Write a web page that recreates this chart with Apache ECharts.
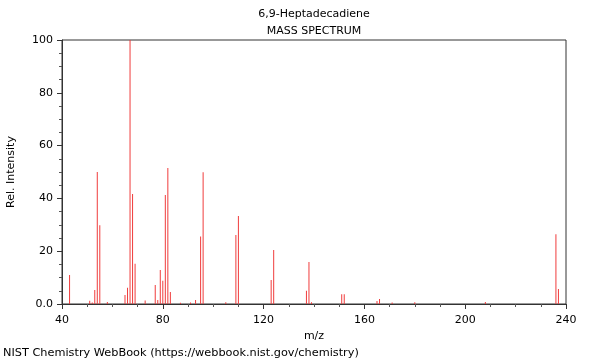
<!DOCTYPE html>
<html>
<head>
<meta charset="utf-8">
<script src="https://cdn.jsdelivr.net/npm/echarts@6/dist/echarts.min.js"></script>
<style>html,body{margin:0;padding:0;background:#fff}#c{width:600px;height:360px}</style>
</head>
<body>
<div id="c"></div>
<script>
var mz = [43,51,52,53,54,55,58,65,66,67,68,69,73,77,78,79,80,81,82,83,87,91,93,95,96,105,109,110,123,124,137,138,139,151,152,165,166,171,180,208,236,237];
var intensity = [11,1.2,0.6,5.3,50,29.8,0.8,3.4,6.2,100,41.7,15.2,1.3,7.2,1.5,12.9,8.8,41.3,51.5,4.5,0.5,0.6,1.5,25.6,49.9,0.7,26.1,33.3,9.1,20.5,5,15.9,0.7,3.7,3.7,1.1,1.9,0.6,0.7,0.8,26.4,5.7];
var titleText = '6,9-Heptadecadiene';
var subtitleText = 'MASS SPECTRUM';
var footerText = 'NIST Chemistry WebBook (https://webbook.nist.gov/chemistry)';

var F = 'DejaVu Sans';
var data = mz.map(function(m, i){ return [m, intensity[i]]; });
var chart = echarts.init(document.getElementById('c'), null, {renderer:'canvas'});
chart.setOption({
  animation:false,
  backgroundColor:'#fff',
  title:[
    {text:titleText, left:314, top:9, padding:0, textAlign:'center', textStyle:{fontFamily:F,fontSize:11,fontWeight:'normal',color:'#000'}},
    {text:subtitleText, left:314, top:26, padding:0, textAlign:'center', textStyle:{fontFamily:F,fontSize:11,fontWeight:'normal',color:'#000'}},
    {text:footerText, left:3, top:348, padding:0, textStyle:{fontFamily:F,fontSize:11.3,fontWeight:'normal',color:'#000'}}
  ],
  grid:{left:62,right:34,top:40,bottom:56,containLabel:false,outerBoundsMode:'none',show:true,borderColor:'#333',borderWidth:1,backgroundColor:'transparent'},
  xAxis:{
    type:'value',min:40,max:240,interval:40,
    name:'m/z',nameLocation:'middle',nameGap:25,
    nameTextStyle:{fontFamily:F,fontSize:11,color:'#000'},
    axisLine:{show:true,lineStyle:{color:'#333',width:1}},
    axisTick:{show:true,length:5,lineStyle:{color:'#333'}},
    minorTick:{show:true,splitNumber:4,length:3,lineStyle:{color:'#555'}},
    splitLine:{show:false},
    axisLabel:{fontFamily:F,fontSize:11,color:'#000',margin:11}
  },
  yAxis:{
    type:'value',min:0,max:100,interval:20,
    name:'Rel. Intensity',nameLocation:'middle',nameGap:45,nameRotate:90,
    nameTextStyle:{fontFamily:F,fontSize:11,color:'#000'},
    axisLine:{show:true,lineStyle:{color:'#333',width:1}},
    axisTick:{show:true,length:5,lineStyle:{color:'#333'}},
    minorTick:{show:true,splitNumber:4,length:3,lineStyle:{color:'#555'}},
    splitLine:{show:false},
    axisLabel:{fontFamily:F,fontSize:11,color:'#000',margin:9,formatter:function(v){return v===0?'0.0':String(v);}}
  },
  series:[{
    type:'bar',data:data,barWidth:1,
    itemStyle:{color:'rgb(240,60,60)'},
    silent:true
  }]
});
</script>
</body>
</html>
